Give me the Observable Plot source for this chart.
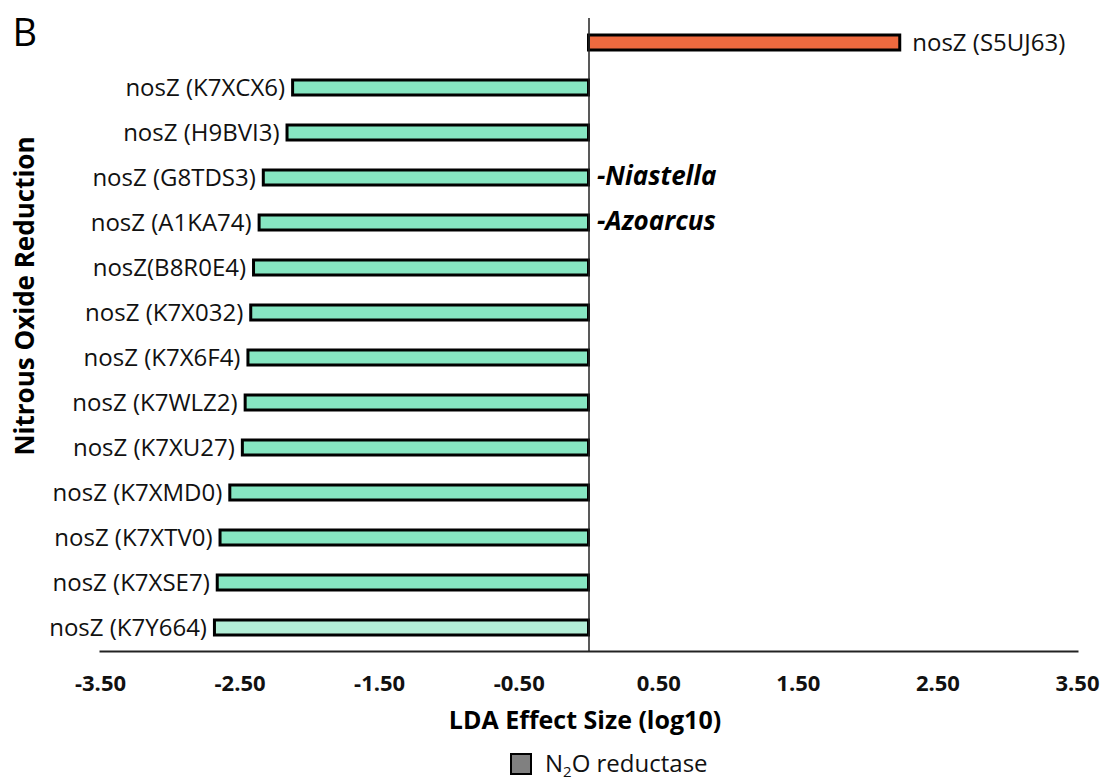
<!DOCTYPE html>
<html>
<head>
<meta charset="utf-8">
<script src="https://cdn.jsdelivr.net/npm/d3@7"></script>
<script src="https://cdn.jsdelivr.net/npm/@observablehq/plot@0.6"></script>
<style>
  html, body { margin: 0; padding: 0; background: #fff; }
  #wrap { position: relative; width: 1109px; height: 780px; font-family: "Open Sans", sans-serif; }
  #legend { position: absolute; left: 510px; top: 746px; display: flex; align-items: center; font-size: 24px; color: #111; }
  #legend .swatch { width: 18px; height: 18px; background: #808080; border: 2.5px solid #000; margin-right: 13px; }
  #legend sub { font-size: 15px; vertical-align: -5px; }
</style>
</head>
<body>
<div id="wrap">
  <div id="chart"></div>
  <div id="legend"><span class="swatch"></span><span>N<sub>2</sub>O reductase</span></div>
</div>
<script>
// nosZ features ranked by LDA effect size
const genes = [
  "nosZ (S5UJ63)", "nosZ (K7XCX6)", "nosZ (H9BVI3)", "nosZ (G8TDS3)", "nosZ (A1KA74)",
  "nosZ(B8R0E4)", "nosZ (K7X032)", "nosZ (K7X6F4)", "nosZ (K7WLZ2)", "nosZ (K7XU27)",
  "nosZ (K7XMD0)", "nosZ (K7XTV0)", "nosZ (K7XSE7)", "nosZ (K7Y664)"
];
const lda = [2.23, -2.12, -2.16, -2.33, -2.36, -2.40, -2.42, -2.44, -2.46, -2.48, -2.57, -2.64, -2.66, -2.68];
const barColors = [
  "#ee6a3f", "#86e6c2", "#86e6c2", "#86e6c2", "#86e6c2", "#86e6c2", "#86e6c2",
  "#86e6c2", "#86e6c2", "#86e6c2", "#86e6c2", "#86e6c2", "#86e6c2", "#b3eed7"
];
const xTicks = [-3.5, -2.5, -1.5, -0.5, 0.5, 1.5, 2.5, 3.5];

// genus notes beside two of the bars
const noteGenes = ["nosZ (G8TDS3)", "nosZ (A1KA74)"];
const noteLabels = ["-Niastella", "-Azoarcus"];

const rows = genes.map((gene, i) => ({gene, lda: lda[i], color: barColors[i]}));
const notes = noteGenes.map((gene, i) => ({gene, label: noteLabels[i]}));

const font = "Open Sans";

const chart = Plot.plot({
  width: 1109,
  height: 742,
  marginLeft: 100,
  marginRight: 32,
  marginTop: 18,
  marginBottom: 91,
  style: {fontFamily: font, color: "#111", background: "#fff"},
  x: {domain: [-3.5, 3.5]},
  y: {domain: genes, paddingInner: 0.67, paddingOuter: 0.33, axis: null},
  color: {type: "identity"},
  marks: [
    Plot.barX(rows, {y: "gene", x1: 0, x2: "lda", fill: "color", stroke: "#000", strokeWidth: 3}),
    Plot.ruleX([0], {stroke: "#222", strokeWidth: 1.5}),
    Plot.frame({anchor: "bottom", stroke: "#222", strokeWidth: 2}),
    Plot.axisX({
      ticks: xTicks, tickFormat: d => d.toFixed(2), tickSize: 0, tickPadding: 24,
      fontSize: 22, fontWeight: "bold", label: null
    }),
    // gene labels: left of negative bars, right of positive bars
    Plot.text(rows.filter(d => d.lda < 0), {
      x: "lda", y: "gene", text: "gene", textAnchor: "end", dx: -8, fontSize: 24, fill: "#111"
    }),
    Plot.text(rows.filter(d => d.lda >= 0), {
      x: "lda", y: "gene", text: "gene", textAnchor: "start", dx: 12, fontSize: 24, fill: "#111"
    }),
    Plot.text(notes, {
      x: 0, y: "gene", text: "label", textAnchor: "start", dx: 8, dy: -1,
      fontSize: 26, fontWeight: "bold", fontStyle: "italic", fill: "#000"
    }),
    // axis titles and panel letter
    Plot.text(["LDA Effect Size (log10)"], {
      frameAnchor: "bottom", lineAnchor: "bottom", dx: -4, dy: 77,
      fontSize: 25, fontWeight: "bold", fill: "#000"
    }),
    Plot.text(["Nitrous Oxide Reduction"], {
      frameAnchor: "left", textAnchor: "middle", lineAnchor: "bottom", rotate: -90, dx: -67, dy: -39,
      fontSize: 26, fontWeight: "bold", fill: "#000"
    }),
    Plot.text(["B"], {
      frameAnchor: "top-left", textAnchor: "start", lineAnchor: "bottom", dx: -88, dy: 27,
      fontSize: 38, fill: "#000"
    })
  ]
});

document.getElementById("chart").appendChild(chart);
</script>
</body>
</html>
